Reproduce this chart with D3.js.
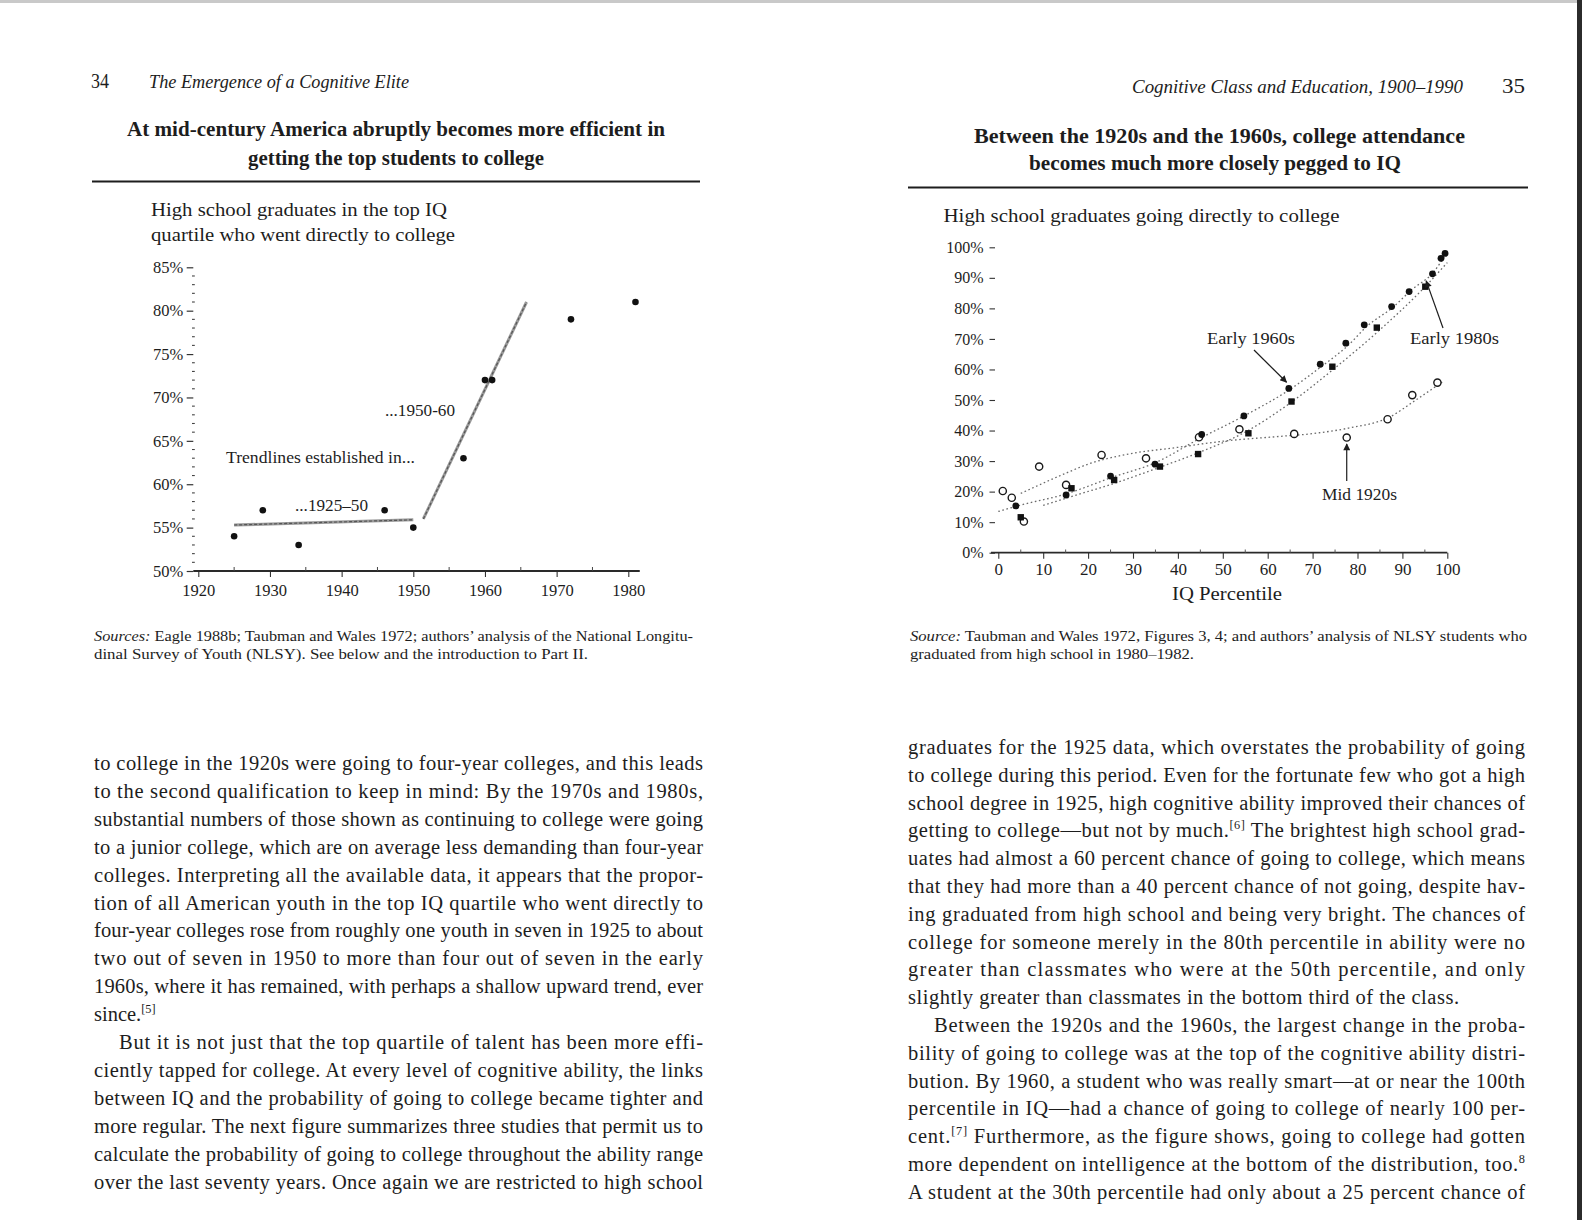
<!DOCTYPE html>
<html>
<head>
<meta charset="utf-8">
<script src="https://cdn.jsdelivr.net/npm/d3@7"></script>
<style>
  body { margin: 0; background: #fff; }
  svg text { font-family: "Liberation Serif", "Times New Roman", serif; fill: #1d1d1d; }
</style>
</head>
<body>
<div id="page"></div>
<script>
// Two facing book pages, each with one chart

// Left chart: top IQ quartile going directly to college, by year
const years = [1925, 1929, 1934, 1946, 1950, 1957, 1960, 1961, 1972, 1981]
const topQuartilePct = [54, 57, 53, 57, 55, 63, 72, 72, 79, 81]
const trend1925to50 = [[1925, 55.3], [1950, 55.9]]
const trend1950to60 = [[1951.4, 56], [1965.8, 81]]
const yearTicks = [1920, 1930, 1940, 1950, 1960, 1970, 1980]
const leftPctTicks = [50, 55, 60, 65, 70, 75, 80, 85]

// Right chart: going directly to college, by IQ percentile
const iq1920s = [1, 3, 5.7, 9.1, 15.1, 23, 32.9, 44.7, 53.7, 65.9, 77.6, 86.7, 92.2, 97.8]
const pct1920s = [20.2, 18, 10.2, 28.2, 22.2, 32, 30.9, 37.8, 40.4, 38.9, 37.7, 43.7, 51.6, 55.7]
const iq1960s = [3.9, 15.1, 25, 34.9, 45.3, 54.7, 64.7, 71.7, 77.4, 81.5, 87.6, 91.5, 96.7, 98.6, 99.5]
const pct1960s = [15.3, 18.9, 25.1, 29, 38.7, 44.8, 53.8, 61.7, 68.6, 74.6, 80.6, 85.5, 91.3, 96.4, 98]
const iq1980s = [5, 16.3, 25.8, 36, 44.5, 55.7, 65.3, 74.4, 84.3, 95.1]
const pct1980s = [11.6, 21.1, 23.8, 28.2, 32.3, 39.1, 49.5, 60.9, 73.7, 87.1]
// fitted curves
const fit1920s = [[5, 19.4], [15, 26], [20, 29], [29, 32.3], [40, 34.5], [50, 36.5], [62, 38], [70, 39], [78, 40.8], [87, 44.3], [93, 50], [99, 56]]
const fit1960s = [[0, 13.5], [5, 15.6], [15, 19.2], [25, 24.5], [35, 29.5], [45, 37.5], [55, 45], [65, 53.5], [72, 61], [78, 68], [82, 74], [88, 80.5], [92, 86], [97, 92], [100, 98.5]]
const fit1980s = [[10, 15.5], [17, 18.7], [26, 22.8], [36, 28], [45, 33], [55, 39.5], [65, 49], [75, 60.5], [85, 73], [95, 87], [100, 95]]
const iqTicks = [0, 10, 20, 30, 40, 50, 60, 70, 80, 90, 100]
const rightPctTicks = [0, 10, 20, 30, 40, 50, 60, 70, 80, 90, 100]

// Body text, one entry per printed line ({..} = superscript)
const leftBody = [
  'to college in the 1920s were going to four-year colleges, and this leads',
  'to the second qualification to keep in mind: By the 1970s and 1980s,',
  'substantial numbers of those shown as continuing to college were going',
  'to a junior college, which are on average less demanding than four-year',
  'colleges. Interpreting all the available data, it appears that the propor-',
  'tion of all American youth in the top IQ quartile who went directly to',
  'four-year colleges rose from roughly one youth in seven in 1925 to about',
  'two out of seven in 1950 to more than four out of seven in the early',
  '1960s, where it has remained, with perhaps a shallow upward trend, ever',
  'since.{[5]}',
  'But it is not just that the top quartile of talent has been more effi-',
  'ciently tapped for college. At every level of cognitive ability, the links',
  'between IQ and the probability of going to college became tighter and',
  'more regular. The next figure summarizes three studies that permit us to',
  'calculate the probability of going to college throughout the ability range',
  'over the last seventy years. Once again we are restricted to high school'
]
const rightBody = [
  'graduates for the 1925 data, which overstates the probability of going',
  'to college during this period. Even for the fortunate few who got a high',
  'school degree in 1925, high cognitive ability improved their chances of',
  'getting to college\u2014but not by much.{[6]} The brightest high school grad-',
  'uates had almost a 60 percent chance of going to college, which means',
  'that they had more than a 40 percent chance of not going, despite hav-',
  'ing graduated from high school and being very bright. The chances of',
  'college for someone merely in the 80th percentile in ability were no',
  'greater than classmates who were at the 50th percentile, and only',
  'slightly greater than classmates in the bottom third of the class.',
  'Between the 1920s and the 1960s, the largest change in the proba-',
  'bility of going to college was at the top of the cognitive ability distri-',
  'bution. By 1960, a student who was really smart\u2014at or near the 100th',
  'percentile in IQ\u2014had a chance of going to college of nearly 100 per-',
  'cent.{[7]} Furthermore, as the figure shows, going to college had gotten',
  'more dependent on intelligence at the bottom of the distribution, too.{8}',
  'A student at the 30th percentile had only about a 25 percent chance of'
]

var width = 1582
var height = 1220

var svg = d3.select('#page')
  .append('svg')
  .attr('width', width)
  .attr('height', height)

svg.append('rect').attr('width', width).attr('height', height).attr('fill', '#fff')
svg.append('rect').attr('width', width).attr('height', 3).attr('fill', '#c9c9c9')
svg.append('rect').attr('x', 1577).attr('width', 5).attr('height', height).attr('fill', '#2b2b2b')

var defs = svg.append('defs')
defs.append('marker')
  .attr('id', 'arrow')
  .attr('viewBox', '0 0 10 10')
  .attr('refX', 9).attr('refY', 5)
  .attr('markerWidth', 9).attr('markerHeight', 7)
  .attr('markerUnits', 'userSpaceOnUse')
  .attr('orient', 'auto')
  .append('path').attr('d', 'M0,0 L10,5 L0,10 Z').attr('fill', '#1d1d1d')

// put text with optional {superscripts}, squeezed or stretched to a measured width
function addText(str, x, y, size, len, opts) {
  opts = opts || {}
  var t = svg.append('text')
    .attr('x', x)
    .attr('y', y)
    .attr('font-size', size)
    .attr('text-anchor', opts.anchor || 'start')
  if (opts.weight) t.attr('font-weight', opts.weight)
  if (opts.style) t.attr('font-style', opts.style)
  var shifted = false
  str.split(/(\{[^}]*\}|\[i\][^\[]*\[\/i\])/).forEach(part => {
    if (!part) return
    if (part[0] === '{') {
      t.append('tspan').attr('font-size', size * 0.6).attr('dy', -size * 0.4).text(part.slice(1, -1))
      shifted = true
    } else if (part.startsWith('[i]')) {
      t.append('tspan').attr('font-style', 'italic').text(part.slice(3, -4))
    } else {
      var sp = t.append('tspan').text(part)
      if (shifted) { sp.attr('dy', size * 0.4); shifted = false }
    }
  })
  if (len) t.attr('textLength', len).attr('lengthAdjust', opts.adjust || 'spacingAndGlyphs')
  return t
}

// ---- page headers, titles, rules
addText('34', 91, 87.5, 20, 18)
addText('The Emergence of a Cognitive Elite', 149, 87.5, 19, 260, { style: 'italic' })
addText('Cognitive Class and Education, 1900\u20131990', 1132, 93, 19, 331, { style: 'italic' })
addText('35', 1502, 93, 20, 23)

addText('At mid-century America abruptly becomes more efficient in', 396, 136, 20, 538, { anchor: 'middle', weight: 'bold' })
addText('getting the top students to college', 396, 165, 20, 296, { anchor: 'middle', weight: 'bold' })
addText('Between the 1920s and the 1960s, college attendance', 1219.5, 143, 20, 491, { anchor: 'middle', weight: 'bold' })
addText('becomes much more closely pegged to IQ', 1215, 170, 20, 372, { anchor: 'middle', weight: 'bold' })

svg.append('rect').attr('x', 92).attr('y', 180.5).attr('width', 608).attr('height', 2).attr('fill', '#1d1d1d')
svg.append('rect').attr('x', 908).attr('y', 186.5).attr('width', 620).attr('height', 2).attr('fill', '#1d1d1d')

// ---- left chart
const xLeft = d3.scaleLinear().domain([1920, 1980]).range([198.3, 628.3])
const yLeft = d3.scaleLinear().domain([50, 85]).range([571, 267.3])

addText('High school graduates in the top IQ', 151, 216, 19.5, 296)
addText('quartile who went directly to college', 151, 241, 19.5, 304)

var gLeftY = svg.append('g')
  .attr('transform', 'translate(193.3,0)')
  .call(d3.axisLeft(yLeft).tickValues(leftPctTicks).tickFormat(d => d + '%').tickSize(6.6).tickPadding(3.5))
gLeftY.select('.domain').remove()
gLeftY.selectAll('line').attr('stroke', '#333').attr('stroke-width', 1.2)
gLeftY.selectAll('text').attr('font-size', 16.5).attr('font-family', null).attr('fill', '#1d1d1d')

// dotted spine made of 1% minor ticks
svg.append('g').selectAll('line')
  .data(d3.range(50, 86).filter(d => d % 5 !== 0))
  .enter()
  .append('line')
  .attr('x1', 192).attr('x2', 194.8)
  .attr('y1', d => yLeft(d)).attr('y2', d => yLeft(d))
  .attr('stroke', '#444').attr('stroke-width', 1.1)

var gLeftX = svg.append('g')
  .attr('transform', 'translate(0,571)')
  .call(d3.axisBottom(xLeft).tickValues(yearTicks).tickFormat(d3.format('d')).tickSize(6).tickSizeOuter(0))
gLeftX.select('.domain').remove()
gLeftX.selectAll('line').attr('stroke', '#333').attr('stroke-width', 1.1)
gLeftX.selectAll('text').attr('font-size', 16.5).attr('font-family', null).attr('fill', '#1d1d1d').attr('y', 25).attr('dy', 0)
svg.append('line')
  .attr('x1', xLeft(1919.3)).attr('x2', xLeft(1981.6))
  .attr('y1', 571).attr('y2', 571)
  .attr('stroke', '#2a2a2a').attr('stroke-width', 1.8)
svg.append('g').selectAll('line')
  .data(d3.range(1925, 1980, 10))
  .enter()
  .append('line')
  .attr('x1', d => xLeft(d)).attr('x2', d => xLeft(d))
  .attr('y1', 567).attr('y2', 571)
  .attr('stroke', '#444').attr('stroke-width', 1)

var trendLine = d3.line().x(d => xLeft(d[0])).y(d => yLeft(d[1]))
;[trend1925to50, trend1950to60].forEach(tr => {
  svg.append('path')
    .attr('d', trendLine(tr))
    .attr('fill', 'none')
    .attr('stroke', '#9a9a9a')
    .attr('stroke-width', 3)
  svg.append('path')
    .attr('d', trendLine(tr))
    .attr('fill', 'none')
    .attr('stroke', '#555')
    .attr('stroke-width', 1.2)
    .attr('stroke-dasharray', '3 2')
})

svg.append('g').selectAll('circle')
  .data(years)
  .enter()
  .append('circle')
  .attr('cx', d => xLeft(d))
  .attr('cy', (d, i) => yLeft(topQuartilePct[i]))
  .attr('r', 3.3)
  .attr('fill', '#111')

addText('Trendlines established in...', 226, 463, 16.5, 189)
addText('...1950-60', 385, 415.5, 16.5, 70)
addText('...1925\u201350', 295, 510.5, 16.5, 73)

addText('[i]Sources:[/i] Eagle 1988b; Taubman and Wales 1972; authors\u2019 analysis of the National Longitu-', 94, 640.5, 14.5, 599)
addText('dinal Survey of Youth (NLSY). See below and the introduction to Part II.', 94, 658.5, 14.5, 494)

// ---- right chart
const xRight = d3.scaleLinear().domain([0, 100]).range([998.3, 1447.3])
const yRight = d3.scaleLinear().domain([0, 100]).range([552.7, 247.3])

addText('High school graduates going directly to college', 943.5, 222, 19.5, 396)

var gRightY = svg.append('g')
  .attr('transform', 'translate(995,0)')
  .call(d3.axisLeft(yRight).tickValues(rightPctTicks).tickFormat(d => d + '%').tickSize(5.5).tickPadding(6))
gRightY.select('.domain').remove()
gRightY.selectAll('line').attr('stroke', '#333').attr('stroke-width', 1.1)
gRightY.selectAll('text').attr('font-size', 16).attr('font-family', null).attr('fill', '#1d1d1d')

var gRightX = svg.append('g')
  .attr('transform', 'translate(0,552.7)')
  .call(d3.axisBottom(xRight).tickValues(iqTicks).tickSize(6).tickSizeOuter(0))
gRightX.select('.domain').remove()
gRightX.selectAll('line').attr('stroke', '#333').attr('stroke-width', 1.1)
gRightX.selectAll('text').attr('font-size', 17).attr('font-family', null).attr('fill', '#1d1d1d').attr('y', 22.5).attr('dy', 0)
svg.append('line')
  .attr('x1', 991).attr('x2', xRight(100))
  .attr('y1', 552.7).attr('y2', 552.7)
  .attr('stroke', '#2a2a2a').attr('stroke-width', 1.8)
svg.append('g').selectAll('line')
  .data(d3.range(5, 100, 10))
  .enter()
  .append('line')
  .attr('x1', d => xRight(d)).attr('x2', d => xRight(d))
  .attr('y1', 549.5).attr('y2', 552.7)
  .attr('stroke', '#555').attr('stroke-width', 1)

addText('IQ Percentile', 1227, 600, 19.5, 110, { anchor: 'middle' })

var fitLine = d3.line().curve(d3.curveMonotoneX).x(d => xRight(d[0])).y(d => yRight(d[1]))
;[fit1920s, fit1960s, fit1980s].forEach(f => {
  svg.append('path')
    .attr('d', fitLine(f))
    .attr('fill', 'none')
    .attr('stroke', '#6a6a6a')
    .attr('stroke-width', 1.3)
    .attr('stroke-dasharray', '1.6 2.6')
})

svg.append('g').selectAll('circle')
  .data(iq1920s)
  .enter()
  .append('circle')
  .attr('cx', d => xRight(d))
  .attr('cy', (d, i) => yRight(pct1920s[i]))
  .attr('r', 3.6)
  .attr('fill', '#fff')
  .attr('stroke', '#1a1a1a')
  .attr('stroke-width', 1.4)

svg.append('g').selectAll('rect')
  .data(iq1980s)
  .enter()
  .append('rect')
  .attr('x', d => xRight(d) - 3.2)
  .attr('y', (d, i) => yRight(pct1980s[i]) - 3.2)
  .attr('width', 6.4)
  .attr('height', 6.4)
  .attr('fill', '#111')

svg.append('g').selectAll('circle')
  .data(iq1960s)
  .enter()
  .append('circle')
  .attr('cx', d => xRight(d))
  .attr('cy', (d, i) => yRight(pct1960s[i]))
  .attr('r', 3.4)
  .attr('fill', '#111')

// callouts
addText('Early 1960s', 1207, 344, 16.5, 88)
addText('Early 1980s', 1410, 344, 16.5, 89)
addText('Mid 1920s', 1322, 500, 16.5, 75)
var arrows = [
  [1254, 350, xRight(64.2), yRight(55.8)],
  [1443, 328, xRight(95.3), yRight(89)],
  [xRight(77.6), 481, xRight(77.6), yRight(35.6)]
]
svg.append('g').selectAll('line')
  .data(arrows)
  .enter()
  .append('line')
  .attr('x1', d => d[0]).attr('y1', d => d[1])
  .attr('x2', d => d[2]).attr('y2', d => d[3])
  .attr('stroke', '#1d1d1d')
  .attr('stroke-width', 1.2)
  .attr('marker-end', 'url(#arrow)')

addText('[i]Source:[/i] Taubman and Wales 1972, Figures 3, 4; and authors\u2019 analysis of NLSY students who', 910, 640.5, 14.5, 617)
addText('graduated from high school in 1980\u20131982.', 910, 658.5, 14.5, 284)

// ---- body text
function drawBody(lines, x0, y0, lh, w, lastLines, indentLine, indent, natural) {
  lines.forEach((line, i) => {
    var x = x0
    var len = w
    if (i === indentLine) { x = x0 + indent; len = w - indent }
    if (lastLines.includes(i)) len = natural[i] || null
    addText(line, x, y0 + i * lh, 20.5, len, { adjust: 'spacing' })
  })
}
drawBody(leftBody, 94, 770, 27.9, 609, [9], 10, 25, {})
drawBody(rightBody, 908, 754, 27.8, 617, [9], 10, 26, { 9: 551 })
</script>
</body>
</html>
